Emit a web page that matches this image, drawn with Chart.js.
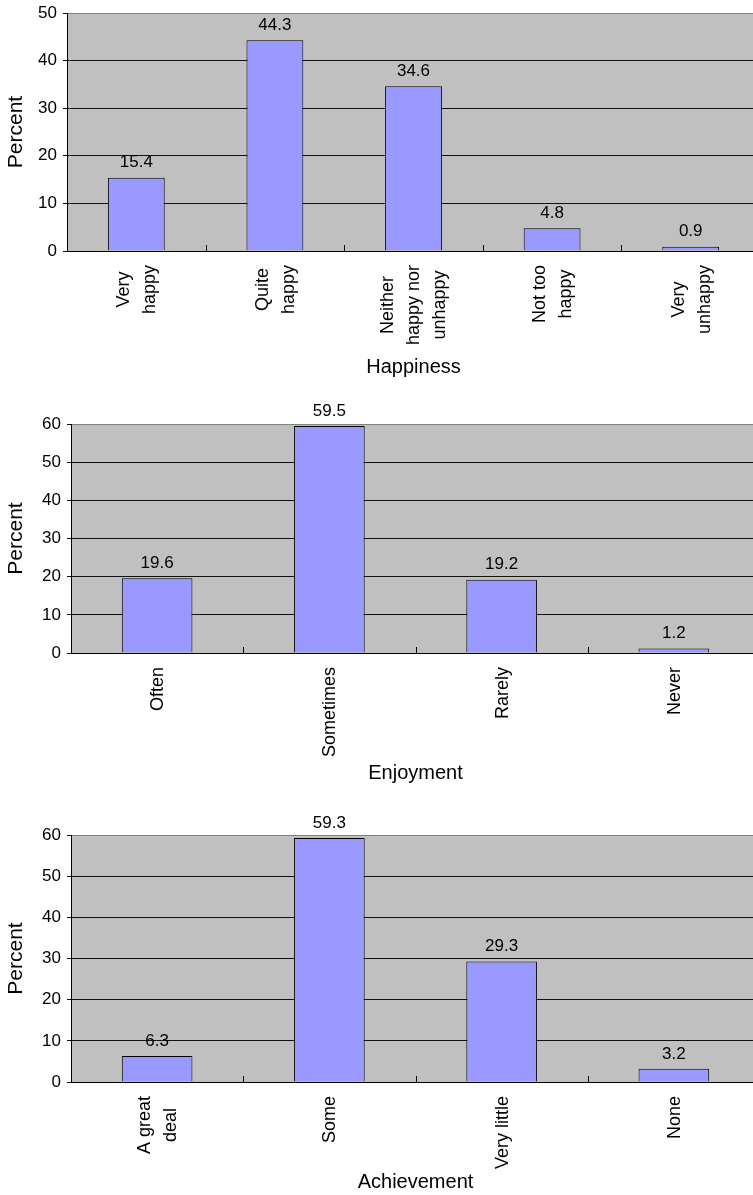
<!DOCTYPE html>
<html>
<head>
<meta charset="utf-8">
<script src="https://cdn.jsdelivr.net/npm/chart.js@4/dist/chart.umd.min.js"></script>
<style>
  html, body { margin: 0; padding: 0; background: #ffffff; overflow: hidden; }
  body { width: 753px; height: 1195px; position: relative; }
  canvas { position: absolute; left: 0; }
</style>
</head>
<body>
<canvas id="happiness" width="760" height="385" style="top:0px"></canvas>
<canvas id="enjoyment" width="760" height="400" style="top:385px"></canvas>
<canvas id="achievement" width="760" height="410" style="top:785px"></canvas>
<script>
// Survey results, percent of respondents per answer
const happinessLabels = [["Very", "happy"], ["Quite", "happy"], ["Neither", "happy nor", "unhappy"], ["Not too", "happy"], ["Very", "unhappy"]];
const happinessValues = [15.4, 44.3, 34.6, 4.8, 0.9];

const enjoymentLabels = [["Often"], ["Sometimes"], ["Rarely"], ["Never"]];
const enjoymentValues = [19.6, 59.5, 19.2, 1.2];

const achievementLabels = [["A great", "deal"], ["Some"], ["Very little"], ["None"]];
const achievementValues = [6.3, 59.3, 29.3, 3.2];

const happinessTicks = { max: 50, step: 10 };
const enjoymentTicks = { max: 60, step: 10 };
const achievementTicks = { max: 60, step: 10 };

const FONT = "'Liberation Sans', Arial, Helvetica, sans-serif";

// Grey plot area, inside category ticks, value labels and rotated category names
const panelPlugin = {
  id: 'panel',
  beforeDraw(chart) {
    const { ctx, chartArea: a } = chart;
    ctx.save();
    ctx.fillStyle = '#c0c0c0';
    ctx.fillRect(a.left, a.top, a.right - a.left, a.bottom - a.top);
    ctx.restore();
  },
  afterDraw(chart) {
    const { ctx, chartArea: a } = chart;
    const xs = chart.scales.x;
    const n = chart.data.labels.length;

    // small ticks between categories, pointing into the plot
    ctx.save();
    ctx.strokeStyle = '#000';
    ctx.lineWidth = 1;
    for (let i = 1; i < n; i++) {
      const x = Math.round((xs.getPixelForValue(i - 1) + xs.getPixelForValue(i)) / 2) + 0.5;
      ctx.beginPath();
      ctx.moveTo(x, a.bottom - 6);
      ctx.lineTo(x, a.bottom);
      ctx.stroke();
    }
    ctx.restore();

    // value labels above bars
    const meta = chart.getDatasetMeta(0);
    const vals = chart.data.datasets[0].data;
    ctx.save();
    ctx.fillStyle = '#000';
    ctx.font = '17px ' + FONT;
    ctx.textAlign = 'center';
    ctx.textBaseline = 'middle';
    meta.data.forEach((bar, i) => {
      ctx.fillText(vals[i].toFixed(1), bar.x, bar.y - 15);
    });
    ctx.restore();

    // category names, rotated, lines centred on each other
    ctx.save();
    ctx.fillStyle = '#000';
    ctx.font = '18px ' + FONT;
    ctx.textAlign = 'center';
    ctx.textBaseline = 'middle';
    const spacing = 26;
    chart.data.labels.forEach((lines, i) => {
      const px = xs.getPixelForValue(i) + 1;
      const maxW = Math.max(...lines.map(l => ctx.measureText(l).width));
      const cy = a.bottom + 14 + maxW / 2;
      lines.forEach((line, j) => {
        const x = px + (j - (lines.length - 1) / 2) * spacing;
        ctx.save();
        ctx.translate(x, cy);
        ctx.rotate(-Math.PI / 2);
        ctx.fillText(line, 0, 0);
        ctx.restore();
      });
    });
    ctx.restore();
  }
};

function makeChart(id, labels, values, ticks, axisTitle, padTop, xAxisH, yAxisW, titlePadBottom) {
  return new Chart(document.getElementById(id), {
    type: 'bar',
    data: {
      labels: labels,
      datasets: [{
        data: values,
        backgroundColor: '#9999ff',
        borderColor: '#000',
        borderWidth: 1,
        categoryPercentage: 1.0,
        barPercentage: 0.41
      }]
    },
    options: {
      responsive: false,
      animation: false,
      events: [],
      layout: { padding: { top: padTop, left: 0, right: 0, bottom: 0 } },
      plugins: { legend: { display: false }, tooltip: { enabled: false } },
      scales: {
        x: {
          offset: true,
          afterFit(s) { s.height = xAxisH; },
          ticks: { display: false },
          grid: { display: true, drawOnChartArea: false, drawTicks: false, offset: true },
          border: { display: true, color: '#000', width: 1 },
          title: {
            display: true,
            text: axisTitle,
            color: '#000',
            font: { family: FONT, size: 20 },
            padding: { top: 0, bottom: titlePadBottom }
          }
        },
        y: {
          min: 0,
          max: ticks.max,
          afterFit(s) {
            s.width = yAxisW;
            // the plot edges are set by the layout padding alone
            s.paddingTop = 0;
            s.paddingBottom = 0;
          },
          ticks: {
            stepSize: ticks.step,
            color: '#000',
            padding: 6,
            font: { family: FONT, size: 17 }
          },
          grid: {
            color: c => (c.tick && c.tick.value === ticks.max) ? '#808080' : '#111',
            tickColor: '#111',
            tickLength: 4,
            lineWidth: 1
          },
          border: { display: true, color: '#000', width: 1 },
          title: {
            display: true,
            text: 'Percent',
            color: '#000',
            font: { family: FONT, size: 21 },
            padding: { top: 4, bottom: 0 }
          }
        }
      }
    },
    plugins: [panelPlugin]
  });
}

makeChart('happiness', happinessLabels, happinessValues, happinessTicks, 'Happiness', 13, 134, 67, 6);
makeChart('enjoyment', enjoymentLabels, enjoymentValues, enjoymentTicks, 'Enjoyment', 39, 132, 71, 0);
makeChart('achievement', achievementLabels, achievementValues, achievementTicks, 'Achievement', 50, 113, 71, 1);
</script>
</body>
</html>
